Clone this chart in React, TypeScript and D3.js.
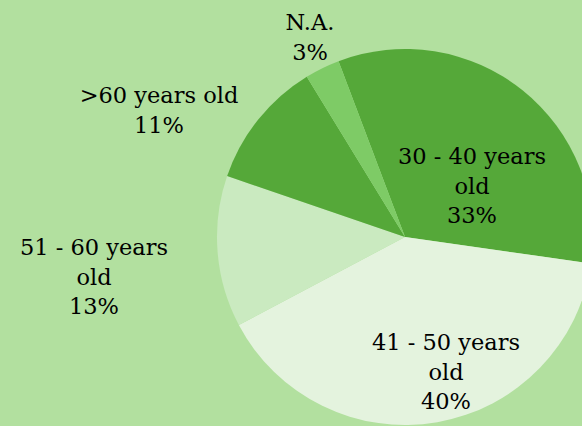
import React from "react";
import * as d3 from "d3";

const categories = ["30 - 40 years old", "41 - 50 years old", "51 - 60 years old", ">60 years old", "N.A."];
const values = [33, 40, 13, 11, 3];
const colors = ["#55a839", "#e4f3de", "#caeac0", "#55a839", "#7ecb66"];
// label lines per category
const labelLines = [
  ["30 - 40 years", "old", "33%"],
  ["41 - 50 years", "old", "40%"],
  ["51 - 60 years", "old", "13%"],
  [">60 years old", "11%"],
  ["N.A.", "3%"],
];
// label anchor (center x, first baseline y) in layout space
const labelPos: [number, number][] = [
  [472, 164],
  [446, 350],
  [94, 255],
  [159, 103],
  [310, 30],
];

const W = 582;
const H = 426;
const cx = 405;
const cy = 237;
const R = 188;
const startDeg = -20.7;

export default function App() {
  const pie = d3
    .pie<number>()
    .sort(null)
    .value((d) => d)
    .startAngle((startDeg * Math.PI) / 180)
    .endAngle(((startDeg + 360) * Math.PI) / 180);
  const arcs = pie(values);
  const arc = d3.arc<d3.PieArcDatum<number>>().innerRadius(0).outerRadius(R);
  return (
    <svg
      width={W}
      height={H}
      style={{ position: "absolute", left: 0, top: 0, display: "block" }}
    >
      <rect x={0} y={0} width={W} height={H} fill="#b2e09f" />
      <g transform={`translate(${cx},${cy})`}>
        {arcs.map((a, i) => (
          <path key={i} d={arc(a) || ""} fill={colors[i]} aria-label={categories[i]} />
        ))}
      </g>
      {labelLines.map((lines, i) => (
        <text
          key={i}
          x={labelPos[i][0]}
          y={labelPos[i][1]}
          textAnchor="middle"
          fontFamily="DejaVu Serif"
          fontSize={22.5}
          fill="#000"
        >
          {lines.map((l, j) => (
            <tspan key={j} x={labelPos[i][0]} dy={j === 0 ? 0 : 29.5}>
              {l}
            </tspan>
          ))}
        </text>
      ))}
    </svg>
  );
}
